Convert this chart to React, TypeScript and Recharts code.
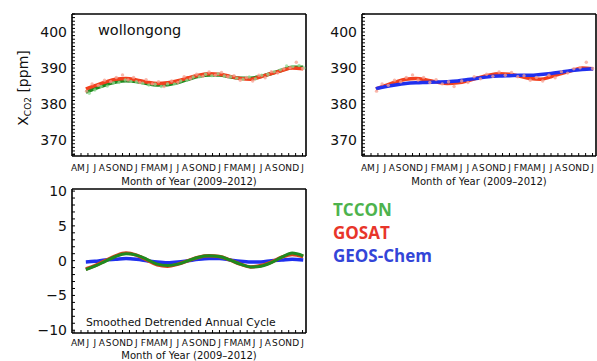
import React from 'react';
import { ComposedChart, Line, Scatter, XAxis, YAxis } from 'recharts';

const monthLetters = ['A', 'M', 'J', 'J', 'A', 'S', 'O', 'N', 'D', 'J', 'F', 'M', 'A', 'M', 'J', 'J', 'A', 'S', 'O', 'N', 'D', 'J', 'F', 'M', 'A', 'M', 'J', 'J', 'A', 'S', 'O', 'N', 'D', 'J'];
const monthTicks = monthLetters.map((_, i) => i);

// smoothed curves, month index 0 = Apr 2009
const months = [1.7, 3, 4.5, 6, 7.5, 9, 10.5, 12, 13.5, 15, 16.5, 18, 19.5, 21, 22.5, 24, 25.5, 27, 28.5, 30, 31.5, 33.1];
const gosat = [384.2, 385.1, 386.1, 386.9, 387.1, 386.7, 386.1, 385.7, 385.9, 386.5, 387.3, 388.0, 388.4, 388.3, 387.7, 387.1, 386.9, 387.6, 388.5, 389.3, 390.0, 389.8];
const tccon = [383.3, 384.3, 385.3, 386.1, 386.5, 386.3, 385.7, 385.3, 385.4, 386.0, 386.9, 387.7, 388.1, 388.1, 387.6, 387.2, 387.2, 387.7, 388.5, 389.4, 390.2, 390.2];
const geosChem = [384.3, 384.8, 385.3, 385.7, 385.9, 386.0, 386.1, 386.2, 386.4, 386.8, 387.2, 387.6, 387.8, 387.9, 388.0, 388.0, 388.2, 388.5, 388.9, 389.3, 389.6, 389.8];

// detrended annual cycle
const gosatCycle = [-1.2, -0.7, 0.0, 0.7, 1.1, 0.8, 0.1, -0.6, -0.8, -0.5, 0.0, 0.5, 0.7, 0.6, 0.1, -0.5, -0.9, -0.7, -0.2, 0.5, 0.9, 0.6];
const tcconCycle = [-1.3, -0.8, -0.1, 0.6, 1.0, 0.8, 0.2, -0.5, -0.7, -0.5, 0.0, 0.5, 0.7, 0.6, 0.1, -0.5, -0.9, -0.8, -0.3, 0.5, 1.1, 0.7];
const geosCycle = [-0.2, -0.1, 0.1, 0.2, 0.3, 0.2, 0.0, -0.2, -0.3, -0.2, 0.0, 0.2, 0.3, 0.3, 0.1, -0.1, -0.2, -0.2, 0.0, 0.1, 0.2, 0.1];

// individual soundings (faint dots)
const gosatObsMonths = [1.8, 2.6, 3.5, 4.4, 5.3, 6.1, 7.0, 7.8, 8.6, 9.5, 10.4, 11.3, 12.2, 13.0, 14.1, 15.0, 15.9, 16.8, 17.7, 18.6, 19.5, 20.4, 21.3, 22.2, 23.1, 24.0, 24.9, 25.8, 26.7, 27.6, 28.5, 29.4, 30.3, 31.2, 32.1, 33.0];
const gosatObs = [383.6, 385.6, 385.2, 386.6, 386.2, 387.4, 388.1, 386.7, 387.4, 386.0, 386.8, 385.6, 386.2, 384.9, 386.4, 386.0, 387.6, 387.0, 388.3, 387.7, 388.9, 388.0, 388.8, 387.6, 387.9, 386.6, 387.4, 386.4, 388.0, 387.3, 389.0, 388.6, 389.8, 390.1, 391.6, 389.9];
const tcconObsMonths = [2.2, 3.0, 3.9, 4.8, 5.7, 6.5, 7.4, 8.2, 9.0, 9.9, 10.8, 11.7, 12.6, 13.5, 14.5, 15.4, 16.3, 17.2, 18.1, 19.0, 19.9, 20.8, 21.7, 22.6, 23.5, 24.4, 25.3, 26.2, 27.1, 28.0, 28.9, 29.8, 30.7, 31.6, 32.5, 33.2];
const tcconObs = [383.0, 383.9, 384.9, 385.0, 385.9, 386.0, 386.7, 386.3, 386.2, 385.8, 385.3, 385.5, 384.9, 385.6, 385.6, 386.4, 386.6, 387.5, 387.6, 388.3, 387.9, 388.4, 387.8, 387.6, 387.2, 386.9, 387.5, 387.0, 388.0, 388.3, 389.0, 389.5, 390.6, 390.4, 390.7, 390.0];

const xcoTicks = [370, 380, 390, 400];
const cycleTicks = [-10, -5, 0, 5, 10];

const toRows = (xs: number[], ys: number[]) => xs.map((m, i) => ({ m, v: ys[i] }));

const RED = '#f2401e';
const GREEN = '#1f8a1f';
const BLUE = '#2030ee';
const X_DOMAIN = [-0.3, 33.5];
const FONT = 'DejaVu Sans, sans-serif';
const AX = { stroke: '#000', strokeWidth: 1.6 };

const minorTicks = (lo: number, hi: number) => {
  const out: number[] = [];
  for (let v = lo; v <= hi; v += 1) out.push(v);
  return out;
};

const frame = (yDomain: number[], yMajor: number[], yAll: number[], yWidth: number, yTickMargin: number, xHeight: number, xTickMargin: number) => [
  <XAxis key="xb" xAxisId="b" type="number" dataKey="m" domain={X_DOMAIN} allowDataOverflow ticks={monthTicks} interval={0}
    tickFormatter={(i: number) => monthLetters[i]} tickSize={-3} tickMargin={xTickMargin} height={xHeight}
    axisLine={AX} tickLine={{ stroke: '#000' }} tick={{ fontSize: 9, fill: '#111', fontFamily: FONT }} />,
  <XAxis key="xt" xAxisId="t" orientation="top" type="number" dataKey="m" domain={X_DOMAIN} allowDataOverflow ticks={monthTicks} interval={0}
    tick={false} tickSize={-3} height={1} axisLine={AX} tickLine={{ stroke: '#000' }} />,
  <YAxis key="yl" yAxisId="l" type="number" domain={yDomain} allowDataOverflow ticks={yAll} interval={0}
    tickFormatter={(v: number) => (yMajor.includes(v) ? (v < 0 ? `\u2212${-v}` : `${v}`) : '')}
    tickSize={-3} tickMargin={yTickMargin} width={yWidth} axisLine={AX} tickLine={{ stroke: '#000' }}
    tick={{ fontSize: 14, fill: '#111', fontFamily: FONT }} />,
  <YAxis key="yr" yAxisId="r" orientation="right" type="number" domain={yDomain} allowDataOverflow ticks={yAll} interval={0}
    tick={false} tickSize={-3} width={1} axisLine={AX} tickLine={{ stroke: '#000' }} />,
];

const dot = (fill: string) => (p: any) => <circle cx={p.cx} cy={p.cy} r={1.7} fill={fill} fillOpacity={0.75} />;

export default function App() {
  return (
    <div style={{ position: 'absolute', left: 0, top: 0, width: 597, height: 361, background: '#fff', overflow: 'hidden' }}>
      <div style={{ position: 'absolute', left: 0, top: 0 }}>
        <ComposedChart width={310} height={190} margin={{ top: 13, right: 3, bottom: 0, left: 0 }}>
          {frame([365.6, 405], xcoTicks, minorTicks(366, 405), 72, 8, 34, 12)}
          <Scatter xAxisId="b" yAxisId="l" data={toRows(tcconObsMonths, tcconObs)} dataKey="v" shape={dot('#92d892')} isAnimationActive={false} />
          <Scatter xAxisId="b" yAxisId="l" data={toRows(gosatObsMonths, gosatObs)} dataKey="v" shape={dot('#f7a090')} isAnimationActive={false} />
          <Line xAxisId="b" yAxisId="l" data={toRows(months, tccon)} dataKey="v" type="monotone" stroke={GREEN} strokeWidth={3.5} dot={false} isAnimationActive={false} />
          <Line xAxisId="b" yAxisId="l" data={toRows(months, gosat)} dataKey="v" type="monotone" stroke={RED} strokeWidth={3.5} dot={false} isAnimationActive={false} />
        </ComposedChart>
      </div>
      <div style={{ position: 'absolute', left: 300, top: 0 }}>
        <ComposedChart width={297} height={190} margin={{ top: 13, right: 0, bottom: 0, left: 0 }}>
          {frame([365.6, 405], xcoTicks, minorTicks(366, 405), 62, 8, 34, 12)}
          <Scatter xAxisId="b" yAxisId="l" data={toRows(gosatObsMonths, gosatObs)} dataKey="v" shape={dot('#f7a090')} isAnimationActive={false} />
          <Line xAxisId="b" yAxisId="l" data={toRows(months, gosat)} dataKey="v" type="monotone" stroke={RED} strokeWidth={3.5} dot={false} isAnimationActive={false} />
          <Line xAxisId="b" yAxisId="l" data={toRows(months, geosChem)} dataKey="v" type="monotone" stroke={BLUE} strokeWidth={3.5} dot={false} isAnimationActive={false} />
        </ComposedChart>
      </div>
      <div style={{ position: 'absolute', left: 0, top: 175 }}>
        <ComposedChart width={310} height={186} margin={{ top: 13, right: 3, bottom: 0, left: 0 }}>
          {frame([-10.4, 10.3], cycleTicks, minorTicks(-10, 10), 72, 8, 28, 10)}
          <Line xAxisId="b" yAxisId="l" data={toRows(months, geosCycle)} dataKey="v" type="monotone" stroke={BLUE} strokeWidth={3.5} dot={false} isAnimationActive={false} />
          <Line xAxisId="b" yAxisId="l" data={toRows(months, gosatCycle)} dataKey="v" type="monotone" stroke="#d8401c" strokeWidth={3.5} dot={false} isAnimationActive={false} />
          <Line xAxisId="b" yAxisId="l" data={toRows(months, tcconCycle)} dataKey="v" type="monotone" stroke={GREEN} strokeWidth={3} dot={false} isAnimationActive={false} />
        </ComposedChart>
      </div>
      <svg width={597} height={361} style={{ position: 'absolute', left: 0, top: 0, pointerEvents: 'none' }}>
        <g fontFamily={FONT} fill="#111">
          <text x={98} y={35} fontSize={14.5}>wollongong</text>
          <text transform="translate(28,88) rotate(-90)" textAnchor="middle" fontSize={14}>
            X<tspan fontSize={9} dy={3}>CO2</tspan><tspan dy={-3}> [ppm]</tspan>
          </text>
          <text x={189} y={184.5} fontSize={10} textAnchor="middle">Month of Year (2009–2012)</text>
          <text x={479} y={184.5} fontSize={10} textAnchor="middle">Month of Year (2009–2012)</text>
          <text x={189} y={359} fontSize={10} textAnchor="middle">Month of Year (2009–2012)</text>
          <text x={86} y={325.5} fontSize={10.8}>Smoothed Detrended Annual Cycle</text>
        </g>
        <g fontFamily="'Open Sans', sans-serif" fontWeight={700} fontSize={17}>
          <text x={333} y={216} fill="#4db34d">TCCON</text>
          <text x={333} y={238.5} fill="#e8352a">GOSAT</text>
          <text x={333} y={261.5} fill="#3345d8">GEOS-Chem</text>
        </g>
      </svg>
    </div>
  );
}
